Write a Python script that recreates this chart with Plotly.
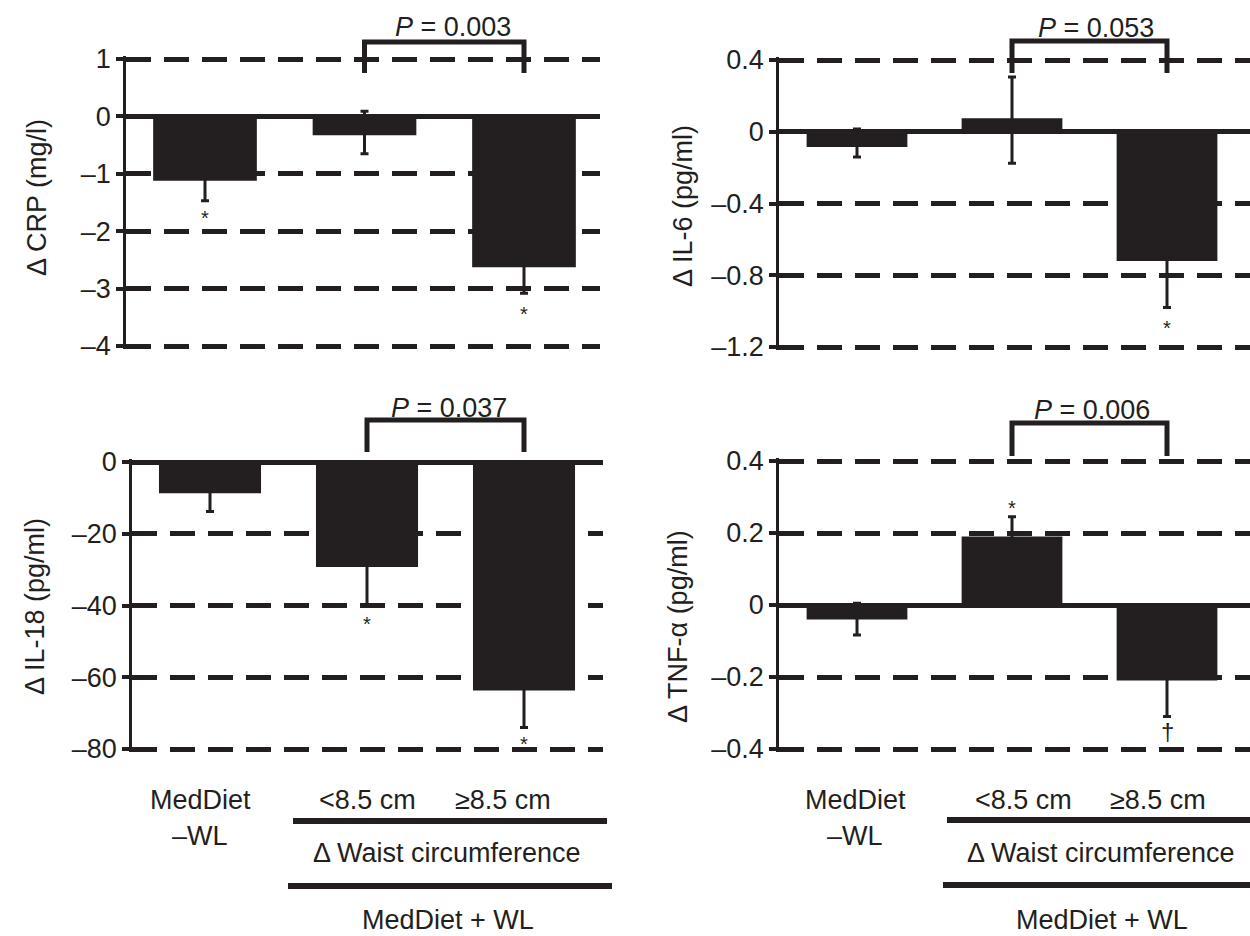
import plotly.graph_objects as go

W, H = 1250, 936
FONT = "Liberation Sans, Arial, Helvetica, sans-serif"
INK = "#231f20"

# ---------------- data ----------------
groups = ["MedDiet –WL", "<8.5 cm", "≥8.5 cm"]
x_pos = [0, 1, 2]

crp_mean = [-1.12, -0.33, -2.63]
crp_err_up = [0.35, 0.42, 0.45]
crp_err_down = [0.35, 0.32, 0.45]

il6_mean = [-0.085, 0.075, -0.72]
il6_err_up = [0.10, 0.23, 0.26]
il6_err_down = [0.056, 0.25, 0.26]

il18_mean = [-8.7, -29.3, -63.7]
il18_err_up = [5.1, 10.4, 10.3]
il18_err_down = [5.1, 10.4, 10.3]

tnf_mean = [-0.04, 0.19, -0.21]
tnf_err_up = [0.045, 0.055, 0.10]
tnf_err_down = [0.043, 0.055, 0.10]

crp_tickvals = [1, 0, -1, -2, -3, -4]
crp_ticktext = ["1", "0", "–1", "–2", "–3", "–4"]
il6_tickvals = [0.4, 0, -0.4, -0.8, -1.2]
il6_ticktext = ["0.4", "0", "–0.4", "–0.8", "–1.2"]
il18_tickvals = [0, -20, -40, -60, -80]
il18_ticktext = ["0", "–20", "–40", "–60", "–80"]
tnf_tickvals = [0.4, 0.2, 0, -0.2, -0.4]
tnf_ticktext = ["0.4", "0.2", "0", "–0.2", "–0.4"]

y_titles = ["Δ CRP (mg/l)", "Δ IL-6 (pg/ml)", "Δ IL-18 (pg/ml)", "Δ TNF-α (pg/ml)"]
p_values = ["0.003", "0.053", "0.037", "0.006"]

# significance marks: (symbol, bar index, value position)
crp_marks = [("*", 0, -1.67), ("*", 2, -3.33)]
il6_marks = [("*", 2, -1.06)]
il18_marks = [("*", 1, -43.5), ("*", 2, -77.0)]
tnf_marks = [("*", 1, 0.285), ("†", 2, -0.35)]

# ---------------- layout geometry (pixels) ----------------
panels = [
    dict(mean=crp_mean, up=crp_err_up, dn=crp_err_down, tv=crp_tickvals, tt=crp_ticktext,
         vmin=-4, vmax=1, px=(126, 600), py=(59, 346), xc0=205, sp=159.5,
         title_xy=(37, 198), p_xy=(453, 27), br_y=(42, 73), marks=crp_marks),
    dict(mean=il6_mean, up=il6_err_up, dn=il6_err_down, tv=il6_tickvals, tt=il6_ticktext,
         vmin=-1.2, vmax=0.4, px=(779, 1250), py=(60, 347), xc0=857, sp=155,
         title_xy=(683, 206), p_xy=(1096, 28), br_y=(41, 73), marks=il6_marks),
    dict(mean=il18_mean, up=il18_err_up, dn=il18_err_down, tv=il18_tickvals, tt=il18_ticktext,
         vmin=-80, vmax=0, px=(132, 603), py=(462, 749), xc0=210, sp=157,
         title_xy=(35, 607), p_xy=(449, 408), br_y=(420, 452), marks=il18_marks),
    dict(mean=tnf_mean, up=tnf_err_up, dn=tnf_err_down, tv=tnf_tickvals, tt=tnf_ticktext,
         vmin=-0.4, vmax=0.4, px=(779, 1250), py=(461, 749), xc0=857, sp=155,
         title_xy=(678, 627), p_xy=(1092, 410), br_y=(423, 456), marks=tnf_marks),
]


def px2paper_x(p):
    return p / W


def px2paper_y(p):
    return 1 - p / H


fig = go.Figure()
layout = dict(
    width=W, height=H, margin=dict(l=0, r=0, t=0, b=0, pad=0, autoexpand=False),
    paper_bgcolor="white", plot_bgcolor="white", showlegend=False,
    font=dict(family=FONT, color=INK, size=27),
)
annotations = []
shapes = []

for i, pnl in enumerate(panels):
    n = i + 1
    xa, ya = f"x{n}", f"y{n}"
    fig.add_trace(go.Bar(
        x=x_pos, y=pnl["mean"], xaxis=xa, yaxis=ya, width=0.65,
        marker=dict(color=INK, line=dict(width=0)),
        error_y=dict(type="data", symmetric=False, array=pnl["up"], arrayminus=pnl["dn"],
                     color=INK, thickness=3, width=4),
        hoverinfo="skip",
    ))
    x0p, x1p = pnl["px"]
    ytp, ybp = pnl["py"]
    xr = [-(pnl["xc0"] - x0p) / pnl["sp"], (x1p - pnl["xc0"]) / pnl["sp"]]
    ppu = (ybp - ytp) / (pnl["vmax"] - pnl["vmin"])
    pad_px = 3
    yr = [pnl["vmin"] - pad_px / ppu, pnl["vmax"] + pad_px / ppu]
    layout[f"xaxis{n}"] = dict(
        domain=[px2paper_x(x0p), px2paper_x(x1p)], range=xr, anchor=ya,
        visible=False, fixedrange=True, automargin=False,
    )
    layout[f"yaxis{n}"] = dict(
        domain=[px2paper_y(ybp + pad_px), px2paper_y(ytp - pad_px)], range=yr, anchor=xa,
        tickmode="array", tickvals=pnl["tv"], ticktext=pnl["tt"],
        tickfont=dict(family=FONT, size=27, color=INK),
        ticks="outside", ticklen=7, tickwidth=4, tickcolor=INK,
        showline=True, linewidth=2.5, linecolor=INK,
        showgrid=True, gridcolor=INK, gridwidth=5, griddash="25px,13px",
        zeroline=True, zerolinecolor=INK, zerolinewidth=5,
        fixedrange=True, automargin=False,
    )

    def dx(v, xr=xr, x0p=x0p, x1p=x1p):
        return px2paper_x(x0p + (v - xr[0]) / (xr[1] - xr[0]) * (x1p - x0p))

    # y-axis title
    tx, ty = pnl["title_xy"]
    annotations.append(dict(
        text=y_titles[i], x=px2paper_x(tx), y=px2paper_y(ty), xref="paper", yref="paper",
        textangle=-90, showarrow=False, xanchor="center", yanchor="middle",
        font=dict(family=FONT, size=27, color=INK),
    ))
    # P value text and bracket
    ptx, pty = pnl["p_xy"]
    annotations.append(dict(
        text=f"<i>P</i> = {p_values[i]}", x=px2paper_x(ptx), y=px2paper_y(pty),
        xref="paper", yref="paper", showarrow=False, xanchor="center", yanchor="middle",
        font=dict(family=FONT, size=27, color=INK),
    ))
    bt, be = pnl["br_y"]
    xl, xrr = dx(1), dx(2)
    shapes.append(dict(
        type="path", xref="paper", yref="paper",
        path=(f"M {xl} {px2paper_y(be)} L {xl} {px2paper_y(bt)} "
              f"L {xrr} {px2paper_y(bt)} L {xrr} {px2paper_y(be)}"),
        line=dict(color=INK, width=5),
    ))
    # significance marks
    for sym, bi, val in pnl["marks"]:
        annotations.append(dict(
            text=sym, x=x_pos[bi], y=val, xref=xa, yref=ya, showarrow=False,
            xanchor="center", yanchor="middle",
            yshift=-6 if sym == "*" else 0,
            font=dict(family=FONT, size=20 if sym == "*" else 24, color=INK),
        ))

# ---------------- bottom group labels ----------------
label_sets = [
    dict(md=(200, 800, 836), lt=367, ge=503, line1=(293, 607, 821), wc=(447, 853),
         line2=(288, 612, 886), mw=(448, 920)),
    dict(md=(855, 800, 836), lt=1023, ge=1158, line1=(947, 1260, 820), wc=(1101, 853),
         line2=(943, 1260, 885), mw=(1102, 920)),
]
for ls in label_sets:
    mx, my1, my2 = ls["md"]
    for txt, x, y in [("MedDiet", mx, my1), ("–WL", mx, my2),
                      (groups[1], ls["lt"], my1), (groups[2], ls["ge"], my1),
                      ("Δ Waist circumference", ls["wc"][0], ls["wc"][1]),
                      ("MedDiet + WL", ls["mw"][0], ls["mw"][1])]:
        annotations.append(dict(
            text=txt.replace("<", "&lt;"), x=px2paper_x(x), y=px2paper_y(y),
            xref="paper", yref="paper", showarrow=False,
            xanchor="center", yanchor="middle",
            font=dict(family=FONT, size=27, color=INK),
        ))
    for (a, b, y) in [ls["line1"], ls["line2"]]:
        shapes.append(dict(
            type="line", xref="paper", yref="paper",
            x0=px2paper_x(a), x1=px2paper_x(b), y0=px2paper_y(y), y1=px2paper_y(y),
            line=dict(color=INK, width=6),
        ))

layout["annotations"] = annotations
layout["shapes"] = shapes
fig.update_layout(**layout)
fig.write_html("out.html", config={"displayModeBar": False},
               post_script="document.body.style.margin='0px';")
